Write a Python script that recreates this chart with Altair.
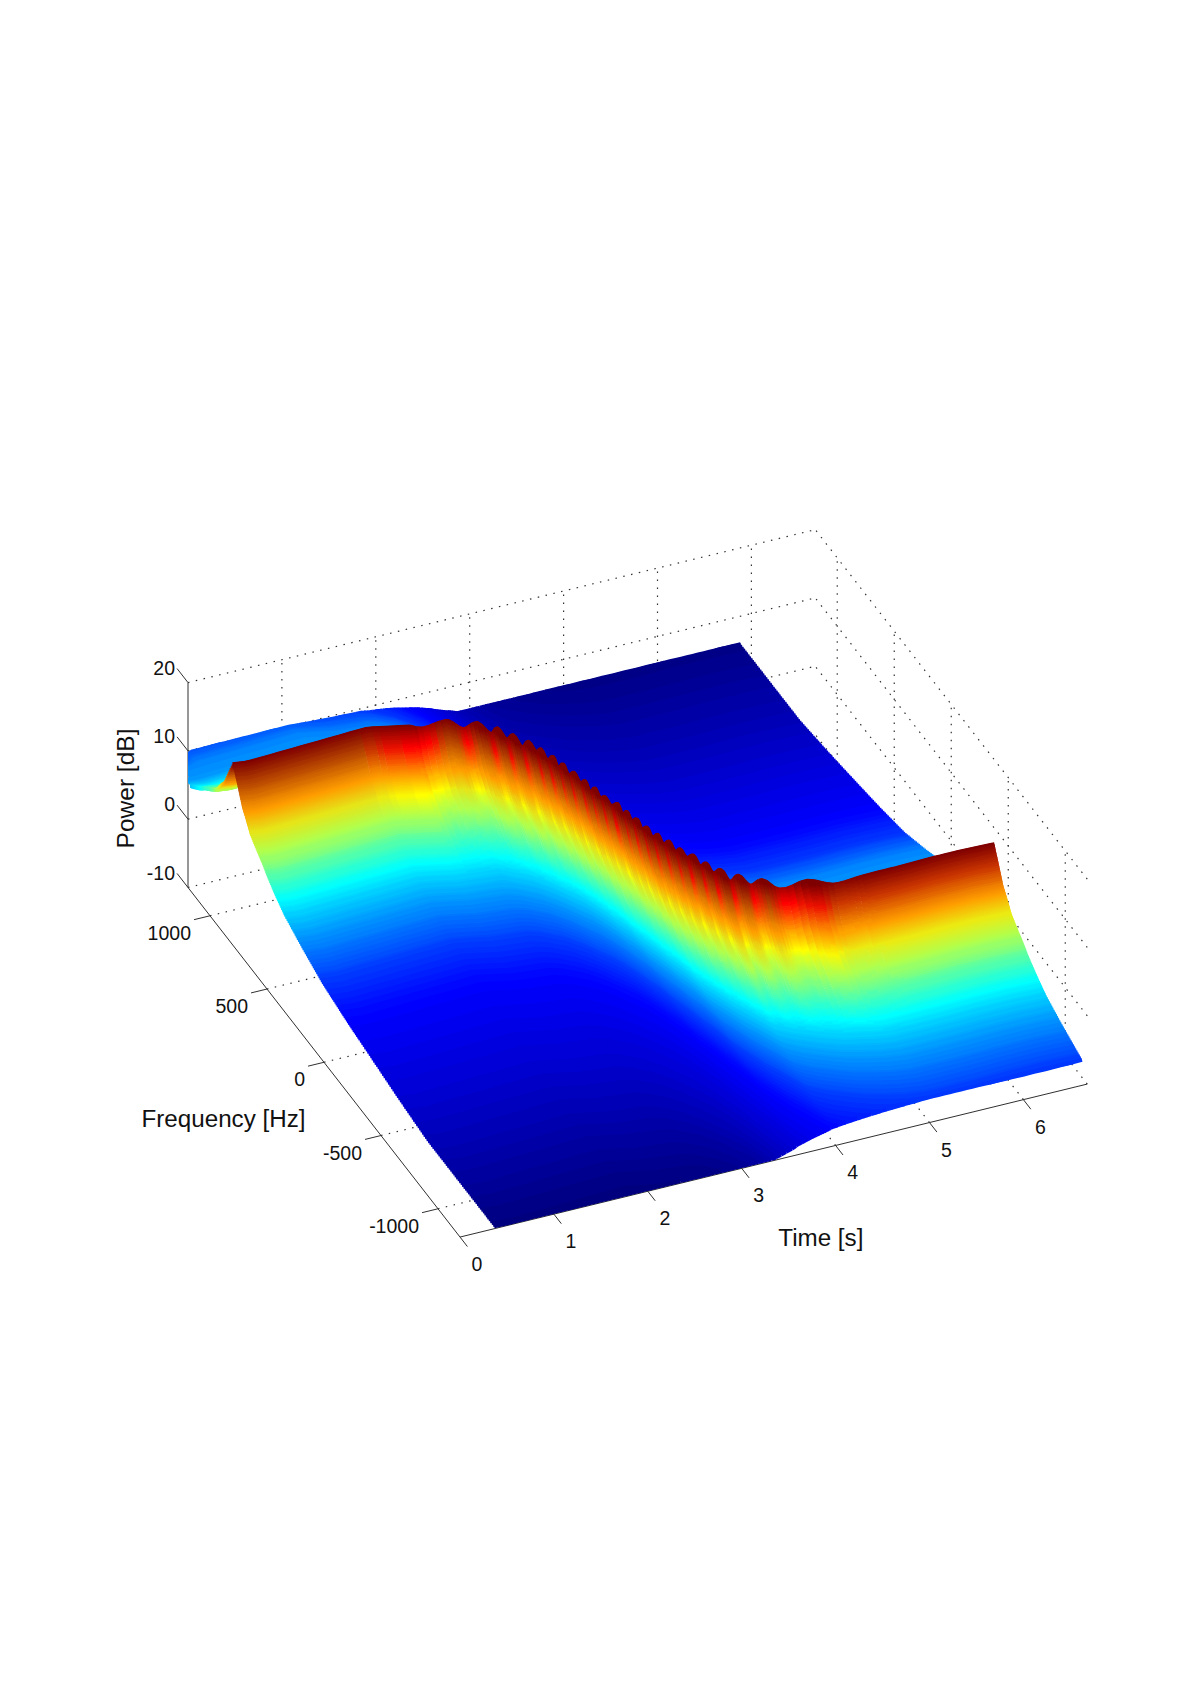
import numpy as np
import pandas as pd
import altair as alt

alt.data_transformers.disable_max_rows()

# ---- values -----------------------------------------------------------------
time_ticks = [0, 1, 2, 3, 4, 5, 6]
freq_ticks = [1000, 500, 0, -500, -1000]
power_ticks = [20, 10, 0, -10]
T_MAX, F_MAX, F_MIN, Z_MIN, Z_MAX = 6.68, 1193, -1193, -10, 20

# ridge frequency (Hz) against time (s)
ridge_t = [0.38, 0.52, 1.1, 1.83, 2.18, 2.6, 2.83, 2.96, 3.05, 3.14, 3.2, 3.255, 3.295, 3.345, 3.38, 3.42,
           3.46, 3.5, 3.545, 3.58, 3.61, 3.66, 3.71, 3.76, 3.83, 3.895, 3.97, 4.1, 4.29, 4.53, 4.69, 4.8,
           4.957, 5.24, 5.6, 5.96, 6.31, 6.64]
ridge_f = [1113, 1102, 1114, 1129, 1087, 1063, 986, 918, 855, 793, 735, 672, 617, 562, 494, 440,
           385, 318, 262, 202, 142, 86, 30, -25, -84, -143, -210, -257, -308, -362, -380, -395,
           -410, -412, -411, -406, -406, -412]

# crest power deviation (dB) and crest shading (1 = brown, 0 = red) at crest / trough stations
crest_t = [0.38, 0.8, 1.4, 1.75, 1.95, 2.2, 2.35, 2.6, 2.72, 2.83, 2.92, 2.96, 3.015, 3.05, 3.105, 3.14, 3.18,
           3.2, 3.23, 3.255, 3.275, 3.295, 3.32, 3.345, 3.365, 3.38, 3.4, 3.42, 3.44, 3.46, 3.48, 3.505, 3.525,
           3.545, 3.56, 3.58, 3.595, 3.61, 3.635, 3.66, 3.685, 3.71, 3.74, 3.76, 3.795, 3.83, 3.865, 3.895,
           3.93, 3.97, 4.04, 4.1, 4.195, 4.29, 4.43, 4.69, 4.95, 5.3, 5.8, 6.3, 6.64]
crest_dz = [0, 0, 0, 0, 0, 0, -0.64, 0, -0.78, 0.54, -0.41, 0.78, -0.28, 0.83, -0.4, 0.88, 0,
            0.83, -0.2, 0.88, -0.26, 0.83, -0.32, 0.63, -0.25, 0.73, -0.47, 0.69, -0.18, 0.44, -0.15, 0.86, -0.2,
            0.63, -0.15, 0.69, -0.2, 0.73, -0.28, 0.69, -0.25, 0.73, -0.28, 0.63, -0.13, 0.73, -0.32, 0.63,
            -0.29, 0.83, -0.59, 0.59, -0.66, 0.4, -0.78, 0.5, -0.3, 0, 0, 0, 0]
crest_shade = [1, 1, 1, 0.8, 0.1, 0, 0, 1, 0, 1, 0, 1, 0, 1, 0, 1, 0,
               1, 0, 1, 0, 1, 0, 1, 0, 1, 0, 1, 0, 1, 0, 1, 0,
               1, 0, 1, 0, 1, 0, 1, 0, 1, 0, 1, 0, 1, 0, 1,
               0, 1, 0, 1, 0, 0.9, 0, 0.1, 0.8, 0.8, 0.8, 0.5, 0.5]
CREST_POWER = 8.5

# power below the crest (dB) against distance from the ridge (Hz)
profile_d = [0, 40, 80, 110, 150, 200, 255, 300, 370, 450, 590, 780, 1000, 1220, 1450, 1700, 3000]
profile_z = [0, -2.2, -4.5, -5.5, -7, -8, -9, -10, -11.2, -12.4, -13.7, -15.2, -16.2, -17, -17.8, -18.5, -19]
# far from the ridge the colour keeps darkening slowly: shading power (dB) against distance (Hz)
shade_far_d = [1000, 1450, 1900, 2300]
shade_far_z = [-7.7, -8.5, -9.3, -10]
# the far side of the ridge shades a little bluer (dB) against distance (Hz)
back_shift_d = [0, 60, 200, 450, 600]
back_shift_z = [0, 0.5, 2, 1, 0]

F_BACK = 1816       # far edge of the sheet (Hz)
F_FRONT = -1180     # near edge of the sheet (Hz)
CLIP_X = 190        # the sheet stops at the vertical axis

# oblique view: page position of a (time, frequency, power) point
X0, Y0, TX, TY, FX, FY, ZY = 188.0, 887.5, 93.9, -22.9, 0.114, 0.1465, 6.83


def proj(t, f, z):
    F = F_MAX - np.asarray(f, float)
    t = np.asarray(t, float)
    z = np.asarray(z, float)
    return X0 + TX * t + FX * F, Y0 + TY * t + FY * F - ZY * (z - Z_MIN)


def jet(c):
    c = np.clip(c, 0, 1)
    return np.stack([np.clip(np.minimum(4 * c - 1.5, -4 * c + 4.5), 0, 1),
                     np.clip(np.minimum(4 * c - 0.5, -4 * c + 3.5), 0, 1),
                     np.clip(np.minimum(4 * c + 0.5, -4 * c + 2.5), 0, 1)], axis=-1)


def eased(tq, ts, vs):
    ts, vs = np.asarray(ts, float), np.asarray(vs, float)
    k = np.clip(np.searchsorted(ts, tq) - 1, 0, len(ts) - 2)
    u = np.clip((tq - ts[k]) / (ts[k + 1] - ts[k]), 0, 1)
    u = 0.5 - 0.5 * np.cos(np.pi * u)
    return vs[k] + (vs[k + 1] - vs[k]) * u


# columns: dense through the crest ripples
ct = np.array(crest_t)
cols = list(np.arange(0.38, 2.6, 0.06))
for a, b in zip(ct[7:55], ct[8:56]):
    cols += list(np.linspace(a, b, 4, endpoint=False))
cols += list(np.arange(4.69, 6.64, 0.06)) + [6.64]
cols = np.array(sorted(set(np.round(cols, 4))))

fr = np.interp(cols, ridge_t, ridge_f)
dz = eased(cols, crest_t, crest_dz)
shade = eased(cols, crest_t, crest_shade) ** 0.6
shade = np.round(shade * 4) / 4

rows = np.concatenate([np.arange(-2250, -450, 13), np.arange(-450, 0, 8),
                       np.arange(0, 150, 4), np.arange(150, 450, 7),
                       np.arange(450, 1100, 10), np.arange(1100, 2320, 13)])

STOPS = [(0.55, 0.72, 0.6), (0.72, 1.0, 1.0)]   # (from, to, strength) of the flattened colour ramps


def colour(c, w):
    rgb = jet(c)
    for lo, hi, s in STOPS:
        a, b = jet(np.array(lo)), jet(np.array(hi))
        u = (c - lo) / (hi - lo)
        inside = (u >= 0) & (u <= 1.001)
        ramp = a + (b - a) * np.clip(u, 0, 1)[:, None]
        k = (w * s * inside)[:, None]
        rgb = rgb * (1 - k) + ramp * k
    return rgb


recs = []
seg = 0


def emit(f, out, coarse):
    global seg
    dist = np.abs(fr - f)
    fade = np.interp(dist, [0, 150, 450], [1, 0.8, 0.0])
    z = CREST_POWER + dz * fade + np.interp(dist, profile_d, profile_z)
    z = np.maximum(z, Z_MIN)
    x, y = proj(cols, f, z)
    x = np.maximum(x, CLIP_X)
    zc = np.where(dist > shade_far_d[0], np.interp(dist, shade_far_d, shade_far_z), z)
    zc = zc - np.where(f > fr, np.interp(dist, back_shift_d, back_shift_z), 0.0)
    c = np.clip(np.round((zc - Z_MIN) / (CREST_POWER - Z_MIN) * 128) / 128, 0, 1)
    rgb = colour(c, shade)
    hexes = ["#%02x%02x%02x" % (int(p[0] * 255), int(p[1] * 255), int(p[2] * 255)) for p in rgb]
    n = len(cols)
    keep = np.zeros(n, bool)
    for j in range(n):
        near_in = (not out[j]) or (j > 0 and not out[j - 1]) or (j < n - 1 and not out[j + 1])
        if near_in and (not coarse or j % 3 == 0 or j == n - 1 or out[j] or j == 0):
            keep[j] = True
    idx = np.nonzero(keep)[0]
    if len(idx) < 2:
        return
    seg += 1
    prev = hexes[idx[0]]
    i = 0
    for p, j in enumerate(idx):
        if p > 0 and out[idx[p - 1]] and out[j] and idx[p - 1] != j - 1:
            seg += 1
            prev = hexes[j]
            i = 0
        if hexes[j] != prev:
            recs.append((round(float(x[j]), 1), round(float(y[j]), 1), seg, prev, i))
            seg += 1
            prev = hexes[j]
            i = 0
        recs.append((round(float(x[j]), 1), round(float(y[j]), 1), seg, prev, i))
        i += 1


none_out = np.zeros(len(cols), bool)
emit(np.full(len(cols), float(F_BACK)), none_out, False)
for d in rows:
    f = fr - d
    out = (f < F_FRONT) | (f > F_BACK)
    emit(np.clip(f, F_FRONT, F_BACK), out, abs(d) > 500)
emit(np.full(len(cols), float(F_FRONT)), none_out, False)
surface = pd.DataFrame(recs, columns=["x", "y", "s", "c", "i"])

# ---- grid, axes and labels, all placed by the same view ----------------------
t_inner = [t for t in time_ticks if t > 0]


def seg_rows(pairs):
    out = []
    for a, b in pairs:
        x1, y1 = proj(*a)
        x2, y2 = proj(*b)
        out.append(dict(x=float(x1), y=float(y1), x2=float(x2), y2=float(y2)))
    return pd.DataFrame(out)


grid_pairs = []
for t in t_inner:
    grid_pairs.append(((t, F_MAX, Z_MIN), (t, F_MAX, Z_MAX)))
    grid_pairs.append(((t, F_MIN, Z_MIN), (t, F_MAX, Z_MIN)))
for z in power_ticks:
    grid_pairs.append(((0, F_MAX, z), (T_MAX, F_MAX, z)))
    grid_pairs.append(((T_MAX, F_MIN, z), (T_MAX, F_MAX, z)))
for f in freq_ticks:
    grid_pairs.append(((T_MAX, f, Z_MIN), (T_MAX, f, Z_MAX)))
    grid_pairs.append(((0, f, Z_MIN), (T_MAX, f, Z_MIN)))
grid = seg_rows(grid_pairs)

axis_pairs = [((0, F_MAX, Z_MIN), (0, F_MAX, Z_MAX)),
              ((0, F_MIN, Z_MIN), (0, F_MAX, Z_MIN)),
              ((0, F_MIN, Z_MIN), (T_MAX, F_MIN, Z_MIN))]
for z in power_ticks:
    axis_pairs.append(((0, F_MAX, z), (0, F_MAX + 96, z)))
for f in freq_ticks:
    axis_pairs.append(((0, f, Z_MIN), (-0.17, f, Z_MIN)))
for t in time_ticks:
    axis_pairs.append(((t, F_MIN, Z_MIN), (t, F_MIN - 65, Z_MIN)))
axes = seg_rows(axis_pairs)

lab = []
for z in power_ticks:
    x, y = proj(0, F_MAX, z)
    lab.append(dict(x=float(x) - 13, y=float(y) - 14, t=str(z), a="right"))
for f in freq_ticks:
    x, y = proj(0, f, Z_MIN)
    lab.append(dict(x=float(x) - 19, y=float(y) + 18, t=str(f), a="right"))
for t in time_ticks:
    x, y = proj(t, F_MIN, Z_MIN)
    lab.append(dict(x=float(x) + 17, y=float(y) + 28, t=str(t), a="center"))
labels = pd.DataFrame(lab)

title_x = proj(3.8, F_MIN, Z_MIN)
title_f = proj(0, -180, Z_MIN)
title_z = proj(0, F_MAX, 4.5)
titles = pd.DataFrame([
    dict(x=float(title_x[0]) + 4, y=float(title_x[1]) + 89, t="Time [s]"),
    dict(x=float(title_f[0]) - 121, y=float(title_f[1]) + 31, t="Frequency [Hz]"),
])
ztitle = pd.DataFrame([dict(x=float(title_z[0]) - 61, y=float(title_z[1]), t="Power [dB]")])

sx = alt.Scale(domain=[8, 1192], nice=False, zero=False)
sy = alt.Scale(domain=[1688, 8], nice=False, zero=False)
X = alt.X("x:Q", scale=sx, axis=None)
Y = alt.Y("y:Q", scale=sy, axis=None)

grid_l = alt.Chart(grid).mark_rule(color="#333333", strokeWidth=1.2, strokeDash=[1.5, 6.5]).encode(
    x=X, y=Y, x2="x2:Q", y2="y2:Q")
axes_l = alt.Chart(axes).mark_rule(color="#303030", strokeWidth=1).encode(
    x=X, y=Y, x2="x2:Q", y2="y2:Q")
surf_l = alt.Chart(surface).mark_line(strokeWidth=4, strokeCap="butt", strokeJoin="round").encode(
    x=X, y=Y, detail="s:N", color=alt.Color("c:N", scale=None), order=alt.Order("i:Q"))
font = "Liberation Sans"
right = alt.Chart(labels[labels.a == "right"]).mark_text(font=font, fontSize=19.5, align="right", baseline="middle", color="#111111").encode(
    x=X, y=Y, text="t:N")
center = alt.Chart(labels[labels.a == "center"]).mark_text(font=font, fontSize=19.5, align="center", baseline="middle", color="#111111").encode(
    x=X, y=Y, text="t:N")
title_l = alt.Chart(titles).mark_text(font=font, fontSize=24.2, align="center", baseline="middle", color="#111111").encode(
    x=X, y=Y, text="t:N")
ztitle_l = alt.Chart(ztitle).mark_text(font=font, fontSize=24.5, align="center", baseline="middle", angle=270, color="#111111").encode(
    x=X, y=Y, text="t:N")

chart = alt.layer(grid_l, axes_l, surf_l, right, center, title_l, ztitle_l).properties(
    width=1184, height=1680, padding=0, background="white",
    autosize=alt.AutoSizeParams(type="none"),
).configure_view(stroke=None)

chart.save("out.html", embed_options={"renderer": "svg", "actions": False})
